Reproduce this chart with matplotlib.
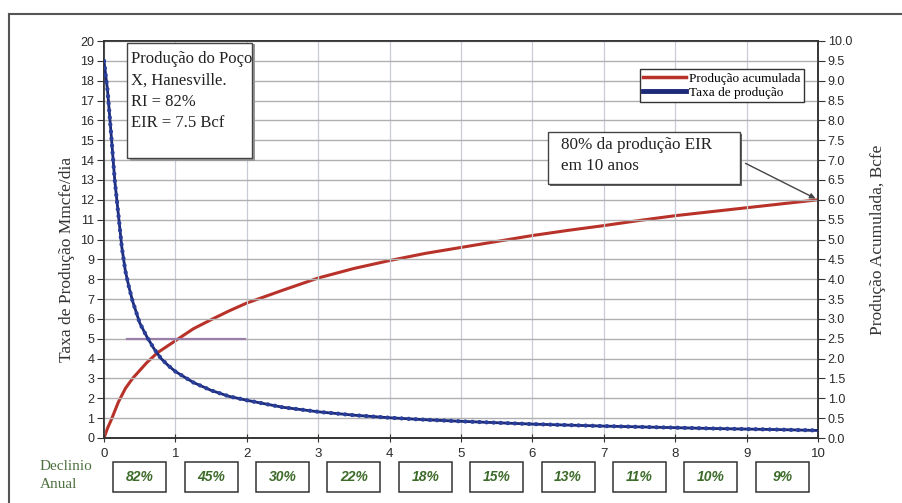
import numpy as np
import matplotlib
matplotlib.use('Agg')
import matplotlib.pyplot as plt
from matplotlib.patches import Rectangle
from matplotlib.lines import Line2D
import matplotlib.transforms as mtransforms

# taxa de producao (Mmcfe/dia)
t_rate = [0, 0.05, 0.1, 0.15, 0.2, 0.25, 0.3, 0.35, 0.4, 0.5, 0.6, 0.7, 0.8, 0.9, 1.0,
          1.25, 1.5, 1.75, 2.0, 2.5, 3.0, 3.5, 4.0, 4.5, 5.0, 5.5, 6.0, 6.5, 7.0,
          7.5, 8.0, 8.5, 9.0, 9.5, 10.0]
rate = [19.0, 17.5, 15.3, 13.0, 11.3, 9.6, 8.4, 7.6, 6.9, 5.8, 5.1, 4.5, 4.0, 3.65, 3.35,
        2.8, 2.4, 2.1, 1.9, 1.55, 1.32, 1.15, 1.02, 0.92, 0.84, 0.77, 0.70, 0.65, 0.60,
        0.56, 0.52, 0.48, 0.45, 0.42, 0.38]

# producao acumulada (Bcfe)
t_cum = [0, 0.05, 0.1, 0.2, 0.3, 0.4, 0.5, 0.6, 0.75, 1.0, 1.25, 1.5, 1.75, 2.0, 2.5,
         3.0, 3.5, 4.0, 4.5, 5.0, 5.5, 6.0, 6.5, 7.0, 7.5, 8.0, 8.5, 9.0, 9.5, 10.0]
cum = [0, 0.25, 0.45, 0.9, 1.25, 1.5, 1.7, 1.9, 2.15, 2.45, 2.75, 2.98, 3.2, 3.4, 3.72,
       4.03, 4.27, 4.47, 4.65, 4.8, 4.95, 5.1, 5.23, 5.35, 5.48, 5.6, 5.7, 5.8, 5.9, 6.0]

# linha horizontal em 5 Mmcfe/dia
ref_x = [0.32, 1.98]
ref_y = [5, 5]

declinio = ['82%', '45%', '30%', '22%', '18%', '15%', '13%', '11%', '10%', '9%']
anos = list(range(11))

serif = 'Liberation Serif'
sans = 'Liberation Sans'
blue = '#1c2a78'
red = '#b8322a'
green = '#3d6b2a'

fig = plt.figure(figsize=(9.02, 5.03), dpi=100)
ax = fig.add_axes([104/902, 1-438/503, 714/902, 397/503])
ax2 = ax.twinx()
ax.set_zorder(ax2.get_zorder() + 1)
ax.patch.set_visible(False)

# moldura externa (so esquerda e topo aparecem)
fig.add_artist(Line2D([9/902, 9/902], [0, 1-14/503], transform=fig.transFigure, color='#555555', lw=1.5))
fig.add_artist(Line2D([9/902, 1], [1-14/503, 1-14/503], transform=fig.transFigure, color='#555555', lw=1.5))

ax.set_xlim(0, 10)
ax.set_ylim(0, 20)
ax2.set_ylim(0, 10)
ax.set_xticks(anos)
ax.set_yticks(range(0, 21))
ax2.set_yticks(np.arange(0, 10.01, 0.5))
ax2.set_yticklabels(['%.1f' % v for v in np.arange(0, 10.01, 0.5)])

for a in (ax, ax2):
    for s in a.spines.values():
        s.set_color('#333333')
        s.set_linewidth(1.2)

ax.grid(axis='y', color='#b0b0b0', lw=1.0)
ax.grid(axis='x', color='#c8ccd6', lw=0.9)
ax.set_axisbelow(True)

ax.tick_params(axis='y', direction='out', length=5, color='#333333', labelsize=9, pad=2)
ax2.tick_params(axis='y', direction='out', length=5, color='#333333', labelsize=9, pad=2)
ax.tick_params(axis='x', direction='inout', length=6, color='#333333', labelsize=9.5, pad=4)
for lab in ax.get_yticklabels() + ax2.get_yticklabels() + ax.get_xticklabels():
    lab.set_fontfamily(sans)
    lab.set_color('#2a2a2a')

ax.set_ylabel('Taxa de Produção Mmcfe/dia', family=serif, fontsize=12.5, color='#333333')
ax.yaxis.set_label_coords(-0.04, 0.45)
ax2.set_ylabel('Produção Acumulada, Bcfe', family=serif, fontsize=12.5, color='#333333')
ax2.yaxis.set_label_coords(1.073, 0.5)

# curvas
ax2.plot(t_cum, cum, color=red, lw=2.2, solid_capstyle='round', zorder=3)
ax.plot(ref_x, ref_y, color='#9a7fa8', lw=1.6, zorder=2)
ax.plot(t_rate, rate, color=blue, lw=2.0, zorder=4)
ax.plot(t_rate, rate, color='#2a3f9a', lw=3.0, ls=(0, (0.1, 1.6)), dash_capstyle='round', zorder=5)

# legenda
handles = [Line2D([], [], color=red, lw=2.5), Line2D([], [], color=blue, lw=3.5)]
leg = ax.legend(handles, ['Produção acumulada', 'Taxa de produção'],
                loc='upper right', bbox_to_anchor=(0.99, 0.945), fancybox=False,
                framealpha=1, edgecolor='#333333', prop={'family': serif, 'size': 9.5},
                handlelength=3.2, handletextpad=0.3, borderpad=0.25, labelspacing=0.1)
leg.get_frame().set_linewidth(1.0)
leg.set_zorder(10)

# caixa de informacoes
ax.add_patch(Rectangle((0.036, 0.697), 0.175, 0.295, transform=ax.transAxes,
                       facecolor='#999999', edgecolor='none', zorder=8, clip_on=False))
ax.add_patch(Rectangle((0.032, 0.705), 0.175, 0.29, transform=ax.transAxes,
                       facecolor='white', edgecolor='#444444', lw=1.0, zorder=9, clip_on=False))
ax.text(0.038, 0.975, 'Produção do Poço\nX, Hanesville.\nRI = 82%\nEIR = 7.5 Bcf',
        transform=ax.transAxes, ha='left', va='top', family=serif, fontsize=12,
        linespacing=1.45, color='#222222', zorder=11)

# anotacao com seta
ax.annotate('', xy=(10, 12), xytext=(8.95, 13.9),
            arrowprops=dict(arrowstyle='-|>', color='#444444', lw=1.0, mutation_scale=8),
            zorder=7)
ax.add_patch(Rectangle((0.625, 0.635), 0.269, 0.13, transform=ax.transAxes,
                       facecolor='#666666', edgecolor='none', zorder=8))
ax.add_patch(Rectangle((0.622, 0.64), 0.269, 0.13, transform=ax.transAxes,
                       facecolor='white', edgecolor='#444444', lw=1.0, zorder=9))
ax.text(0.64, 0.757, '80% da produção EIR\nem 10 anos', transform=ax.transAxes,
        ha='left', va='top', family=serif, fontsize=12.3, linespacing=1.35,
        color='#222222', zorder=11)

# caixas de declinio anual
trans = mtransforms.blended_transform_factory(ax.transData, fig.transFigure)
for i, txt in enumerate(declinio):
    xc = i + 0.5
    fig.add_artist(Rectangle((xc - 0.37, 1-492/503), 0.74, 30/503, transform=trans,
                             facecolor='white', edgecolor='#333333', lw=1.1))
    fig.text(xc, 1-477/503, txt, transform=trans, ha='center', va='center',
             family=sans, style='italic', weight='bold', fontsize=10, color=green)

fig.text(40/902, 1-476/503, 'Declinio\nAnual', ha='left', va='center', family=serif,
         fontsize=11, color='#4f7040', linespacing=1.5)

fig.savefig('out.png', dpi=100)
